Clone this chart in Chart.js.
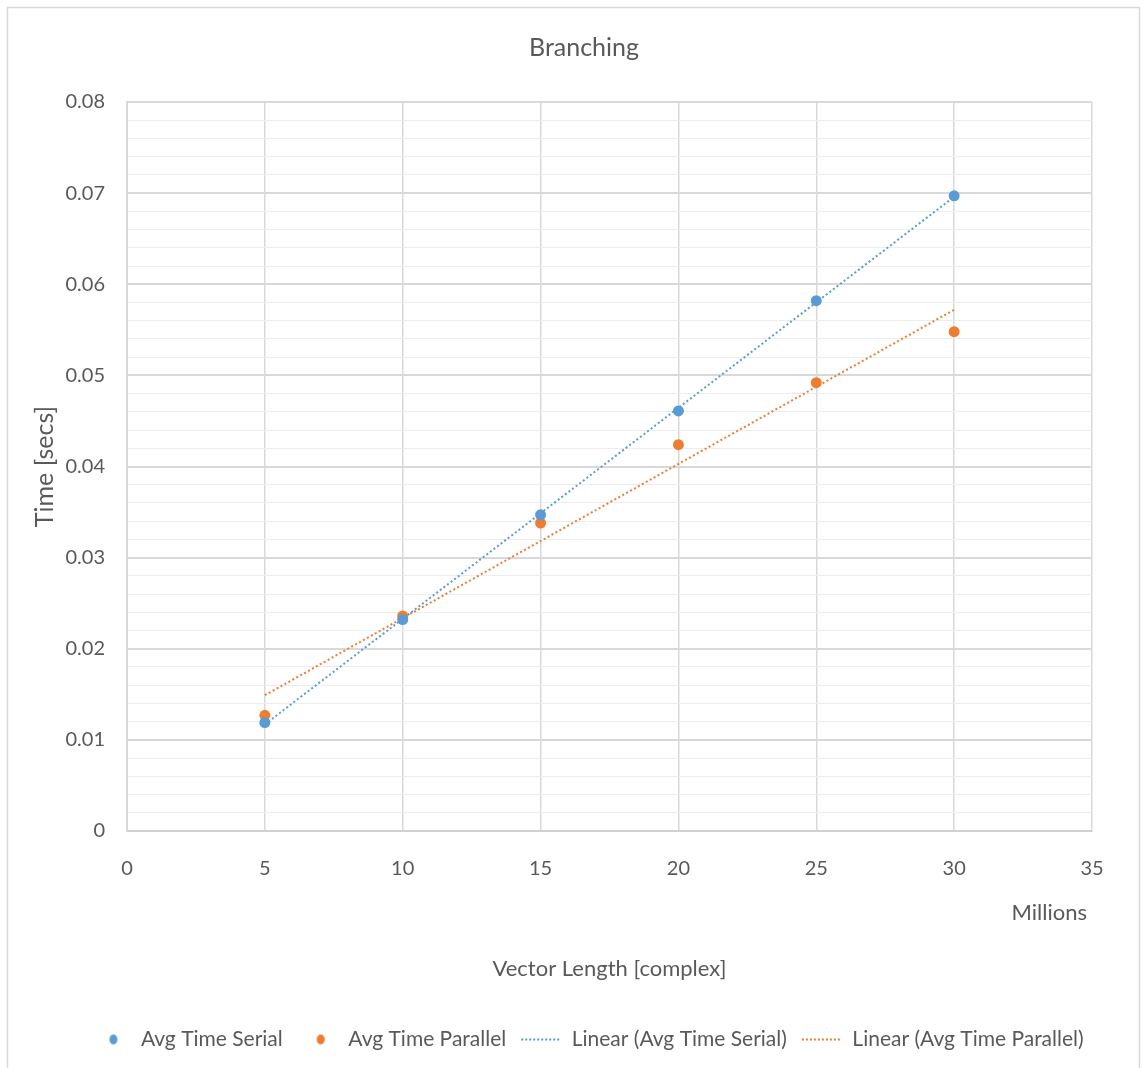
<!DOCTYPE html>
<html>
<head>
<meta charset="utf-8">
<script src="https://cdn.jsdelivr.net/npm/chart.js@4.4.0/dist/chart.umd.min.js"></script>
<style>
    html, body { margin: 0; padding: 0; background: #fff; }
    #wrap { width: 1146px; height: 1068px; position: relative; }
</style>
</head>
<body>
<div id="wrap"><canvas id="branching-chart"></canvas></div>
<script>
// values (x in millions)
const vectorLengths = [5, 10, 15, 20, 25, 30];
const avgTimeSerial = [0.0119, 0.0232, 0.0347, 0.0461, 0.0582, 0.0697];
const avgTimeParallel = [0.0127, 0.0236, 0.0338, 0.0424, 0.0492, 0.0548];

// trendline end points (Excel linear trendlines)
const trendX = [5, 30];
const trendSerial = [0.0117, 0.0696];
const trendParallel = [0.0149, 0.0572];

const xTickLabels = ['0', '5', '10', '15', '20', '25', '30', '35'];
const yTickLabels = ['0', '0.01', '0.02', '0.03', '0.04', '0.05', '0.06', '0.07', '0.08'];

const BLUE = '#5b9bd5';
const ORANGE = '#ed7d31';
const TEXT = '#595959';

// small icons for the legend
function legendIcon(kind, color) {
    const c = document.createElement('canvas');
    c.width = 44;
    c.height = 12;
    const g = c.getContext('2d');
    g.fillStyle = color;
    g.strokeStyle = color;
    if (kind === 'dot') {
        g.beginPath();
        g.ellipse(27, 6, 4, 5, 0, 0, Math.PI * 2);
        g.fill();
    } else {
        g.lineWidth = 2;
        g.setLineDash([2, 2]);
        g.beginPath();
        g.moveTo(4, 6);
        g.lineTo(44, 6);
        g.stroke();
    }
    return c;
}
const legendIcons = [
    legendIcon('dot', BLUE),
    legendIcon('dot', ORANGE),
    legendIcon('line', BLUE),
    legendIcon('line', ORANGE)
];

// chart frame, "Millions" unit label, and Excel-like centering of title/legend
const extras = {
    id: 'extras',
    afterLayout(chart) {
        // Excel centres title and legend a bit right of the canvas centre
        if (chart.titleBlock) {
            chart.titleBlock.left += 34;
            chart.titleBlock.right += 34;
        }
        if (chart.legend) {
            chart.legend.left += 35;
            chart.legend.right += 35;
        }
    },
    beforeDraw(chart) {
        const ctx = chart.ctx;
        ctx.save();
        ctx.fillStyle = '#fff';
        ctx.fillRect(0, 0, chart.width, chart.height);
        ctx.strokeStyle = '#d9d9d9';
        ctx.lineWidth = 1.5;
        ctx.strokeRect(7.5, 7.5, 1132, 1100);
        ctx.restore();
    },
    afterDraw(chart) {
        const ctx = chart.ctx;
        const area = chart.chartArea;
        ctx.save();
        ctx.font = '22px Lato';
        ctx.fillStyle = TEXT;
        ctx.textAlign = 'right';
        ctx.textBaseline = 'middle';
        ctx.fillText('Millions', area.right - 5, area.bottom + 82);
        ctx.restore();
    }
};

const ctx = document.getElementById('branching-chart').getContext('2d');

new Chart(ctx, {
    type: 'scatter',
    data: {
        datasets: [
            {
                label: 'Avg Time Serial',
                data: vectorLengths.map((x, i) => ({ x: x, y: avgTimeSerial[i] })),
                backgroundColor: BLUE,
                borderColor: BLUE,
                borderWidth: 0,
                pointRadius: 5.5
            },
            {
                label: 'Avg Time Parallel',
                data: vectorLengths.map((x, i) => ({ x: x, y: avgTimeParallel[i] })),
                backgroundColor: ORANGE,
                borderColor: ORANGE,
                borderWidth: 0,
                pointRadius: 5.5
            },
            {
                label: 'Linear (Avg Time Serial)',
                data: trendX.map((x, i) => ({ x: x, y: trendSerial[i] })),
                showLine: true,
                borderColor: BLUE,
                backgroundColor: BLUE,
                borderWidth: 2,
                borderDash: [2, 2.5],
                pointRadius: 0
            },
            {
                label: 'Linear (Avg Time Parallel)',
                data: trendX.map((x, i) => ({ x: x, y: trendParallel[i] })),
                showLine: true,
                borderColor: ORANGE,
                backgroundColor: ORANGE,
                borderWidth: 2,
                borderDash: [2, 2.5],
                pointRadius: 0
            }
        ]
    },
    options: {
        responsive: true,
        maintainAspectRatio: false,
        animation: false,
        layout: {
            padding: { left: 8, right: 54, top: 0, bottom: 8 }
        },
        scales: {
            x: {
                min: 0,
                max: 35,
                afterFit: function(scale) { scale.height = 187; },
                ticks: {
                    stepSize: 5,
                    padding: 26,
                    color: TEXT,
                    font: { family: 'Lato', size: 20 },
                    callback: function(value, index) { return xTickLabels[index]; }
                },
                grid: {
                    color: '#d9d9d9',
                    lineWidth: 1.5,
                    drawTicks: false
                },
                border: { color: '#d0d0d0', width: 2 },
                title: {
                    display: true,
                    text: 'Vector Length [complex]',
                    color: TEXT,
                    font: { family: 'Lato', size: 22 },
                    padding: { top: 0, bottom: 36 }
                }
            },
            y: {
                min: 0,
                max: 0.08,
                afterFit: function(scale) { scale.width = 119; },
                ticks: {
                    stepSize: 0.002,
                    autoSkip: false,
                    padding: 22,
                    color: TEXT,
                    font: { family: 'Lato', size: 20 },
                    callback: function(value, index) {
                        return index % 5 === 0 ? yTickLabels[index / 5] : '';
                    }
                },
                grid: {
                    drawTicks: false,
                    color: function(c) { return c.index % 5 === 0 ? '#d9d9d9' : '#ededed'; },
                    lineWidth: function(c) { return c.index % 5 === 0 ? 2 : 1; }
                },
                border: { color: '#d9d9d9', width: 2 },
                title: {
                    display: true,
                    text: 'Time [secs]',
                    color: TEXT,
                    font: { family: 'Lato', size: 25 },
                    padding: { top: 22, bottom: 0 }
                }
            }
        },
        plugins: {
            title: {
                display: true,
                text: 'Branching',
                color: TEXT,
                font: { family: 'Lato', size: 25, weight: 'normal' },
                padding: { top: 33, bottom: 39 }
            },
            legend: {
                position: 'bottom',
                labels: {
                    usePointStyle: true,
                    pointStyleWidth: 44,
                    padding: 11,
                    color: TEXT,
                    font: { family: 'Lato', size: 21 },
                    generateLabels: function(chart) {
                        const items = Chart.defaults.plugins.legend.labels.generateLabels(chart);
                        items.forEach(function(item, i) { item.pointStyle = legendIcons[i]; });
                        return items;
                    }
                }
            },
            tooltip: { enabled: false }
        }
    },
    plugins: [extras]
});
</script>
</body>
</html>
